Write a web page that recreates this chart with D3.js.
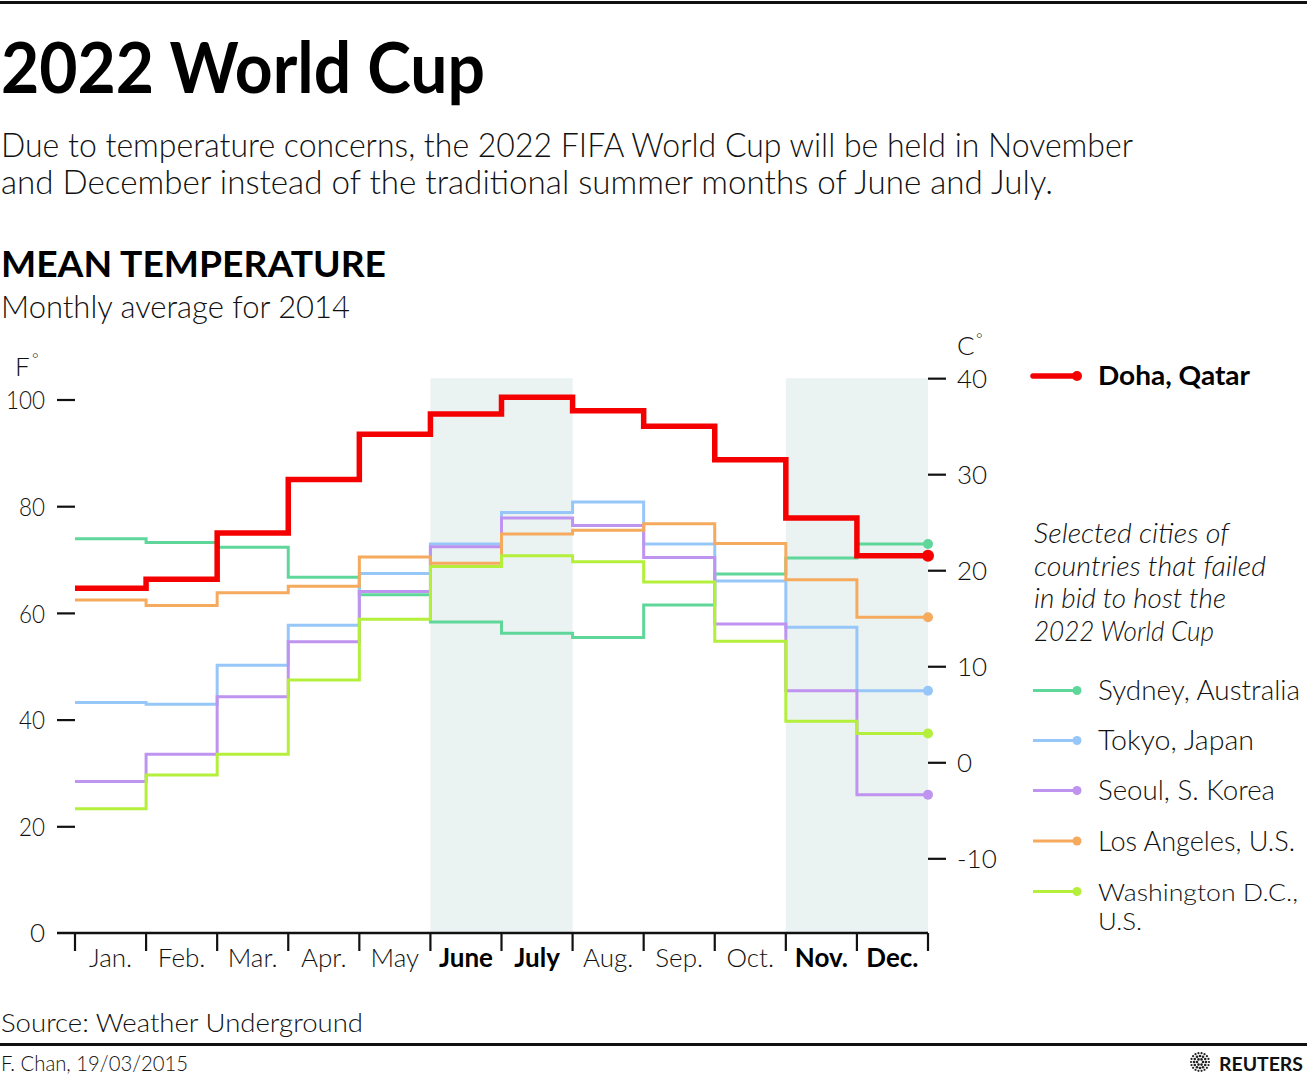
<!DOCTYPE html>
<html>
<head>
<meta charset="utf-8">
<script src="https://cdn.jsdelivr.net/npm/d3@7"></script>
<style>
  html, body { margin: 0; padding: 0; background: #fff; }
  svg { display: block; font-family: Lato, "Open Sans", "DejaVu Sans", sans-serif; }
</style>
</head>
<body>
<svg id="chart" width="1307" height="1080"></svg>
<script>
// ---- Data (°F, monthly mean 2014) ----
const months = ["Jan.", "Feb.", "Mar.", "Apr.", "May", "June", "July", "Aug.", "Sep.", "Oct.", "Nov.", "Dec."];
const boldMonths = ["June", "July", "Nov.", "Dec."];
const doha       = [64.6, 66.3, 75.0, 85.0, 93.5, 97.3, 100.4, 97.9, 95.0, 88.7, 77.8, 70.7];
const sydney     = [73.9, 73.2, 72.3, 66.7, 63.4, 58.3, 56.2, 55.4, 61.5, 67.3, 70.3, 72.9];
const tokyo      = [43.2, 42.9, 50.2, 57.7, 67.4, 72.9, 78.8, 80.8, 72.9, 66.0, 57.3, 45.4];
const seoul      = [28.4, 33.5, 44.3, 54.6, 64.0, 72.4, 77.8, 76.4, 70.4, 57.9, 45.4, 25.9];
const losAngeles = [62.4, 61.4, 63.8, 65.0, 70.5, 69.3, 74.8, 75.5, 76.7, 73.0, 66.2, 59.2];
const washington = [23.3, 29.6, 33.5, 47.4, 58.8, 68.7, 70.7, 69.6, 65.8, 54.7, 39.7, 37.4];
const fTicks = [0, 20, 40, 60, 80, 100];
const cTicks = [-10, 0, 10, 20, 30, 40];
const shadedMonths = [[5, 7], [10, 12]]; // June–July, Nov.–Dec.

const others = [
  { name: ["Sydney, Australia"], values: sydney, color: "#5fd79b" },
  { name: ["Tokyo, Japan"], values: tokyo, color: "#97c7f8" },
  { name: ["Seoul, S. Korea"], values: seoul, color: "#bf93f0" },
  { name: ["Los Angeles, U.S."], values: losAngeles, color: "#f5aa5d" },
  { name: ["Washington D.C.,", "U.S."], values: washington, color: "#b3ef3b" }
];
const dohaColor = "#f50000";

const svg = d3.select("#chart");
function fit(sel, w) { sel.attr("textLength", w).attr("lengthAdjust", "spacingAndGlyphs"); return sel; }

// ---- Header ----
svg.append("rect").attr("x", 0).attr("y", 1).attr("width", 1307).attr("height", 3).attr("fill", "#111");
fit(svg.append("text").attr("x", 1).attr("y", 93).attr("font-size", 70).attr("font-weight", 700)
  .attr("fill", "#000").text("2022 World Cup"), 484);
fit(svg.append("text").attr("x", 1).attr("y", 157).attr("font-size", 33).attr("font-weight", 300).attr("fill", "#111")
  .text("Due to temperature concerns, the 2022 FIFA World Cup will be held in November"), 1132);
fit(svg.append("text").attr("x", 1).attr("y", 194).attr("font-size", 33).attr("font-weight", 300).attr("fill", "#111")
  .text("and December instead of the traditional summer months of June and July."), 1052);
fit(svg.append("text").attr("x", 1).attr("y", 277).attr("font-size", 37).attr("font-weight", 700).attr("fill", "#000")
  .text("MEAN TEMPERATURE"), 385);
fit(svg.append("text").attr("x", 1).attr("y", 318).attr("font-size", 31).attr("font-weight", 300).attr("fill", "#111")
  .text("Monthly average for 2014"), 349);

// ---- Scales ----
const x = d3.scaleLinear().domain([0, 12]).range([75, 928]);
const yF = d3.scaleLinear().domain([0, 100]).range([933, 399.5]);
const toC = f => (f - 32) / 1.8;
const yC = d3.scaleLinear().domain([toC(0), toC(100)]).range([933, 399.5]);

// ---- Shading ----
svg.append("g").selectAll("rect").data(shadedMonths).join("rect")
  .attr("x", d => x(d[0])).attr("width", d => x(d[1]) - x(d[0]))
  .attr("y", yC(40)).attr("height", yF(0) - yC(40))
  .attr("fill", "#ebf3f2");

// ---- Left axis (°F) ----
const leftAxis = svg.append("g").attr("transform", `translate(75,0)`)
  .call(d3.axisLeft(yF).tickValues(fTicks.filter(d => d > 0)).tickFormat(d => String(d))
    .tickSize(18).tickPadding(12).tickSizeOuter(0));
leftAxis.select(".domain").remove();
leftAxis.selectAll(".tick line").attr("stroke", "#111").attr("stroke-width", 2.2);
leftAxis.selectAll(".tick text").attr("font-size", 26).attr("font-weight", 300).attr("fill", "#111")
  .attr("font-family", "Lato, sans-serif").attr("dy", "0.35em")
  .each(function(d) { fit(d3.select(this), String(d).length * 13); });
svg.append("text").attr("x", 45).attr("y", yF(0) + 9).attr("text-anchor", "end").attr("font-size", 26)
  .attr("font-weight", 300).attr("fill", "#111").text(String(fTicks[0]));
svg.append("text").attr("x", 15).attr("y", 376).attr("font-size", 26).attr("font-weight", 300).attr("fill", "#111").text("F");
svg.append("text").attr("x", 32).attr("y", 364).attr("font-size", 16).attr("font-weight", 300).attr("fill", "#111").text("°");

// ---- Right axis (°C) ----
const rightAxis = svg.append("g").attr("transform", `translate(928,0)`)
  .call(d3.axisRight(yC).tickValues(cTicks).tickFormat(d => String(d))
    .tickSize(18).tickPadding(11).tickSizeOuter(0));
rightAxis.select(".domain").remove();
rightAxis.selectAll(".tick line").attr("stroke", "#111").attr("stroke-width", 2.2);
rightAxis.selectAll(".tick text").attr("font-size", 26).attr("font-weight", 300).attr("fill", "#111")
  .attr("font-family", "Lato, sans-serif").attr("dy", "0.35em");
svg.append("text").attr("x", 957).attr("y", 355).attr("font-size", 26).attr("font-weight", 300).attr("fill", "#111").text("C");
svg.append("text").attr("x", 976).attr("y", 344).attr("font-size", 16).attr("font-weight", 300).attr("fill", "#111").text("°");

// ---- X axis ----
svg.append("line").attr("x1", 57).attr("x2", x(12)).attr("y1", yF(0)).attr("y2", yF(0))
  .attr("stroke", "#111").attr("stroke-width", 2.6);
svg.append("g").selectAll("line").data(d3.range(13)).join("line")
  .attr("x1", d => x(d)).attr("x2", d => x(d)).attr("y1", yF(0)).attr("y2", yF(0) + 18)
  .attr("stroke", "#111").attr("stroke-width", 2.2);
svg.append("g").selectAll("text").data(months).join("text")
  .attr("x", (d, i) => x(i + 0.5)).attr("y", 967).attr("text-anchor", "middle")
  .attr("font-size", 26)
  .attr("font-weight", d => boldMonths.includes(d) ? 700 : 300)
  .attr("fill", d => boldMonths.includes(d) ? "#000" : "#111")
  .text(d => d);

// ---- Step lines ----
const line = d3.line().x(d => x(d[0])).y(d => yF(d[1])).curve(d3.curveStepAfter);
const pts = vals => vals.map((v, i) => [i, v]).concat([[12, vals[vals.length - 1]]]);

const gLines = svg.append("g");
gLines.selectAll("path.other").data(others).join("path").attr("class", "other")
  .attr("d", d => line(pts(d.values))).attr("fill", "none")
  .attr("stroke", d => d.color).attr("stroke-width", 3);
gLines.selectAll("circle.other").data(others).join("circle").attr("class", "other")
  .attr("cx", x(12)).attr("cy", d => yF(d.values[11])).attr("r", 5).attr("fill", d => d.color);
gLines.append("path").attr("d", line(pts(doha))).attr("fill", "none")
  .attr("stroke", dohaColor).attr("stroke-width", 5.5).attr("stroke-linejoin", "miter");
gLines.append("circle").attr("cx", x(12)).attr("cy", yF(doha[11])).attr("r", 6).attr("fill", dohaColor);

// ---- Legend ----
const lg = svg.append("g");
lg.append("line").attr("x1", 1033).attr("x2", 1077).attr("y1", 376).attr("y2", 376)
  .attr("stroke", dohaColor).attr("stroke-width", 5.5).attr("stroke-linecap", "round");
lg.append("circle").attr("cx", 1077).attr("cy", 376).attr("r", 5).attr("fill", dohaColor);
fit(lg.append("text").attr("x", 1098).attr("y", 385).attr("font-size", 27).attr("font-weight", 700)
  .attr("fill", "#000").text("Doha, Qatar"), 152);

const noteLines = ["Selected cities of", "countries that failed", "in bid to host the", "2022 World Cup"];
const noteW = [195, 232, 192, 180];
noteLines.forEach((t, i) => {
  fit(lg.append("text").attr("x", 1034).attr("y", 543 + i * 32.7).attr("font-size", 27)
    .attr("font-style", "italic").attr("font-weight", 300).attr("fill", "#111").text(t), noteW[i]);
});

const legY = [690.5, 740.5, 790.5, 841, 891.5];
const legW = [[202], [156], [177], [197], [200, 44]];
others.forEach((s, i) => {
  const y = legY[i];
  lg.append("line").attr("x1", 1033).attr("x2", 1077).attr("y1", y).attr("y2", y)
    .attr("stroke", s.color).attr("stroke-width", 3);
  lg.append("circle").attr("cx", 1077).attr("cy", y).attr("r", 4.5).attr("fill", s.color);
  const multi = s.name.length > 1;
  s.name.forEach((n, j) => {
    fit(lg.append("text").attr("x", 1098).attr("y", y + 9.5 + j * 28.5)
      .attr("font-size", multi ? 23.5 : 27)
      .attr("font-weight", 300).attr("fill", "#111").text(n), legW[i][j]);
  });
});

// ---- Footer ----
fit(svg.append("text").attr("x", 1).attr("y", 1032).attr("font-size", 26).attr("font-weight", 300)
  .attr("fill", "#111").text("Source: Weather Underground"), 362);
svg.append("rect").attr("x", 0).attr("y", 1043).attr("width", 1307).attr("height", 3).attr("fill", "#111");
fit(svg.append("text").attr("x", 1).attr("y", 1071).attr("font-size", 21).attr("font-weight", 300)
  .attr("fill", "#111").text("F. Chan, 19/03/2015"), 187);

// Reuters logo: dotted rings + wordmark
const logo = svg.append("g").attr("transform", "translate(1200,1062)");
[[3, 6], [6, 12], [9, 18]].forEach(([r, n]) => {
  d3.range(n).forEach(k => {
    const a = (k / n) * 2 * Math.PI;
    logo.append("circle").attr("cx", r * Math.cos(a)).attr("cy", r * Math.sin(a))
      .attr("r", r === 9 ? 1.1 : 1.3).attr("fill", "#222");
  });
});
fit(svg.append("text").attr("x", 1219).attr("y", 1071).attr("font-size", 19).attr("font-weight", 700)
  .attr("fill", "#111").text("REUTERS"), 84);
</script>
</body>
</html>
